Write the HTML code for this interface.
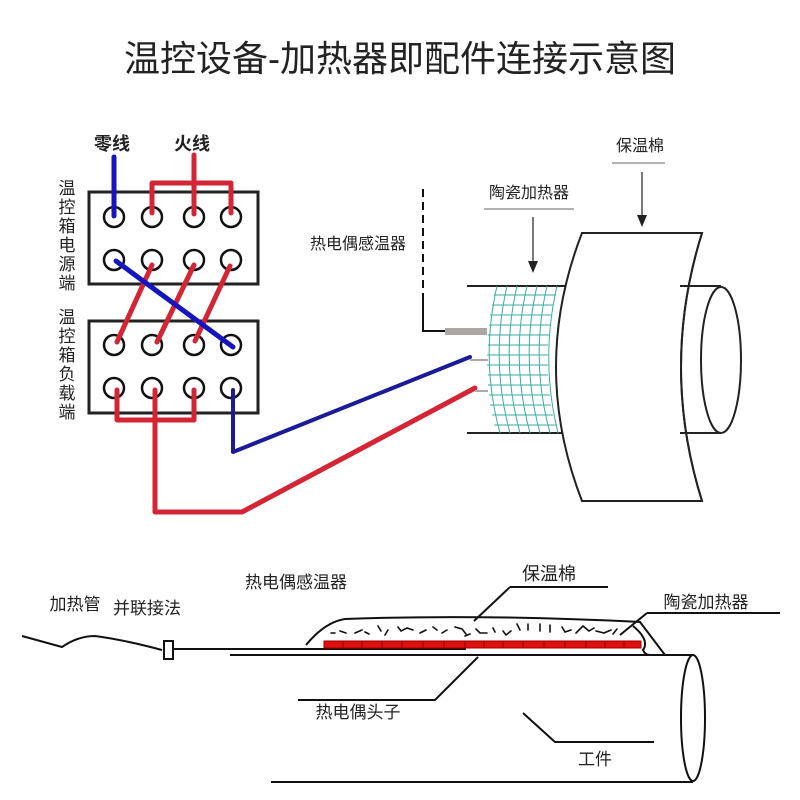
<!DOCTYPE html>
<html><head><meta charset="utf-8"><style>
body{margin:0;background:#fff}
svg{display:block}
text{font-family:"Liberation Sans","Noto Sans CJK SC",sans-serif;fill:#222}
</style></head><body>
<svg width="800" height="800" viewBox="0 0 800 800" xmlns="http://www.w3.org/2000/svg">
<text x="400" y="71" font-size="36" text-anchor="middle" fill="#111">温控设备-加热器即配件连接示意图</text>

<text x="112" y="150" font-size="18" text-anchor="middle" font-weight="bold" fill="#333">零线</text>
<text x="192" y="150" font-size="18" text-anchor="middle" font-weight="bold" fill="#333">火线</text>
<g font-size="17" text-anchor="middle" fill="#333">
<text x="67" y="194">温</text><text x="67" y="213">控</text><text x="67" y="232">箱</text><text x="67" y="251">电</text><text x="67" y="270">源</text><text x="67" y="289">端</text>
<text x="67" y="323">温</text><text x="67" y="342">控</text><text x="67" y="361">箱</text><text x="67" y="380">负</text><text x="67" y="399">载</text><text x="67" y="418">端</text>
</g>

<rect x="89" y="192" width="169" height="92" fill="none" stroke="#222" stroke-width="3"/>
<rect x="89" y="321" width="169" height="92" fill="none" stroke="#222" stroke-width="3"/>
<g fill="none" stroke="#111" stroke-width="2.5">
<circle cx="114" cy="217" r="10"/><circle cx="152" cy="217" r="10"/><circle cx="194" cy="217" r="10"/><circle cx="231" cy="217" r="10"/>
<circle cx="114" cy="260" r="10"/><circle cx="152" cy="260" r="10"/><circle cx="194" cy="260" r="10"/><circle cx="231" cy="260" r="10"/>
<circle cx="114" cy="345" r="10"/><circle cx="152" cy="345" r="10"/><circle cx="194" cy="345" r="10"/><circle cx="231" cy="345" r="10"/>
<circle cx="114" cy="388" r="10"/><circle cx="152" cy="388" r="10"/><circle cx="194" cy="388" r="10"/><circle cx="231" cy="388" r="10"/>
</g>
<g fill="none" stroke-width="5" stroke-linecap="round" stroke-linejoin="round">
<path d="M114 157V216" stroke="#1515c0"/>
<path d="M194 155V214M152 213V183H231V213" stroke="#d42535"/>
<path d="M152 265L117 342M194 265L157 342M230 266L195 341" stroke="#d42535"/>
<path d="M116 261L233 347" stroke="#1515c0"/>
<path d="M117 390V420H194V390M155 390V512H242L475 388" stroke="#d42535"/>
<path d="M233 390V452L470 357" stroke="#1b1b9a" stroke-width="4"/>
</g>

<text x="640" y="151" font-size="16" text-anchor="middle" fill="#444">保温棉</text>
<line x1="612" y1="163" x2="665" y2="163" stroke="#999" stroke-width="1.5"/>
<line x1="642" y1="172" x2="642" y2="217" stroke="#222" stroke-width="1.2"/>
<polygon points="637,215 647,215 642,227" fill="#222"/>
<text x="529" y="198" font-size="16" text-anchor="middle" fill="#444">陶瓷加热器</text>
<line x1="484" y1="209" x2="574" y2="209" stroke="#999" stroke-width="1.5"/>
<line x1="533" y1="217" x2="533" y2="263" stroke="#222" stroke-width="1.2"/>
<polygon points="528,261 538,261 533,273" fill="#222"/>
<text x="358" y="249" font-size="16" text-anchor="middle" fill="#333">热电偶感温器</text>
<path d="M423 189V331H445" fill="none" stroke="#111" stroke-width="2" stroke-dasharray="8,5"/>
<path d="M423 300V331H445" fill="none" stroke="#111" stroke-width="2"/>
<rect x="445" y="328" width="42" height="7" fill="#aaa7a4"/>
<line x1="470" y1="360" x2="488" y2="360" stroke="#aaa" stroke-width="2"/>
<line x1="475" y1="391" x2="488" y2="391" stroke="#aaa" stroke-width="2"/>
<line x1="467" y1="286" x2="575" y2="286" stroke="#222" stroke-width="2"/>
<line x1="467" y1="433" x2="575" y2="433" stroke="#222" stroke-width="2"/>
<g stroke="#3aaea0" stroke-width="1" fill="none">
<path d="M497 286Q480 360 500 433M507 286Q490 360 510 433M517 286Q500 360 520 433M527 286Q510 360 530 433M537 286Q520 360 540 433M547 286Q530 360 550 433M557 286Q540 360 558 433"/>
<path d="M494 295H556M492 305H553M490 315H551M489 325H550M488 335H549M488 345H548M487 355H548M487 365H548M488 375H548M488 385H549M489 395H550M490 405H551M492 415H553M494 425H556"/>
</g>
<path d="M582 233H702Q660 367 702 501H582Q530 367 582 233Z" fill="#fff" stroke="#222" stroke-width="2"/>
<path d="M680 286H721M680 433H721" stroke="#222" stroke-width="2"/>
<path d="M702 233Q660 367 702 501" fill="none" stroke="#222" stroke-width="2"/>
<ellipse cx="721" cy="360" rx="20" ry="73" fill="#fff" stroke="#222" stroke-width="2"/>

<text x="75" y="610" font-size="17" text-anchor="middle" fill="#222">加热管</text>
<text x="147" y="614" font-size="17" text-anchor="middle" fill="#222">并联接法</text>
<text x="296" y="588" font-size="17" text-anchor="middle" fill="#222">热电偶感温器</text>
<text x="549" y="580" font-size="18" text-anchor="middle" fill="#222">保温棉</text>
<text x="706" y="608" font-size="17" text-anchor="middle" fill="#222">陶瓷加热器</text>
<text x="358" y="718" font-size="17" text-anchor="middle" fill="#222">热电偶头子</text>
<text x="595" y="765" font-size="17" text-anchor="middle" fill="#222">工件</text>
<g fill="none" stroke="#111" stroke-width="2">
<path d="M22 636L62 647Q78 636 95 636Q125 640 162 650"/>
<rect x="164" y="641" width="9" height="18" fill="#fff"/>
<path d="M174 649H466"/>
<path d="M230 655H693M271 782H693"/>
<ellipse cx="693" cy="718" rx="12" ry="63"/>
<path d="M306 645Q325 622 345 619Q480 614 640 622L665 655"/>
<path d="M633 626Q650 640 643 650Q645 655 650 655"/>
<path d="M510 587H608M510 587L474 621"/>
<path d="M647 613H780M647 613L620 635"/>
<path d="M478 657L435 700H298"/>
<path d="M523 713L555 742H654"/>
</g>
<g fill="none" stroke="#111" stroke-width="1.6" stroke-linecap="round">
<path d="M331 633h4M340 631l6 2M355 633l7-3M365 632l4 2M378 626l3 5M388 630l-3 5M398 627l3 4 6-3 6 2M420 633l6-3M433 627l4 3M442 633l5-3M455 627l7 2 4 5M465 636l5-2M476 629l4 4 7 0M493 628l2 4M503 631l3 4 5-4M517 624l3 6M528 624v6M540 624v7M550 625v7M562 627l3 5 6-2M576 633l7-7 6 5 5-3M596 631l8 2 7-3M617 629l-4 5"/>
</g>
<rect x="324" y="641" width="317" height="7" fill="#e01010" stroke="#900" stroke-width="1"/>
<g stroke="#900" stroke-width="1">
<path d="M343 641v7M362 641v7M382 641v7M402 641v7M423 641v7M444 641v7M465 641v7M484 641v7M503 641v7M523 641v7M544 641v7M565 641v7M586 641v7M605 641v7M624 641v7"/>
</g>
</svg>
</body></html>
